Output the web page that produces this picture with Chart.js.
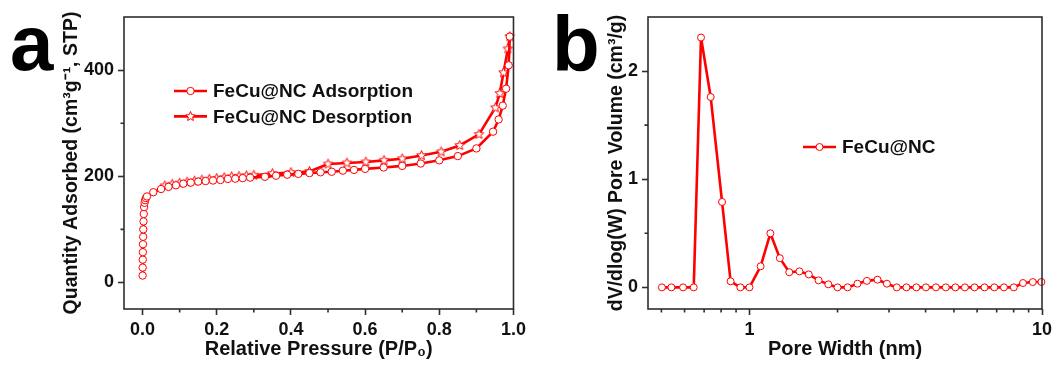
<!DOCTYPE html>
<html>
<head>
<meta charset="utf-8">
<script src="https://cdn.jsdelivr.net/npm/chart.js@4/dist/chart.umd.min.js"></script>
<style>
  html, body { margin: 0; padding: 0; background: #fff; }
  body { width: 1059px; height: 374px; position: relative; overflow: hidden; }
  canvas { position: absolute; top: 0; }
  #isotherm { left: 0; }
  #pores { left: 530px; }
</style>
</head>
<body>
<canvas id="isotherm" width="530" height="374"></canvas>
<canvas id="pores" width="529" height="374"></canvas>
<script>
// panel a - N2 isotherm
const adsPressure = [0.0002, 0.0004, 0.0006, 0.0009, 0.0012, 0.0016, 0.002, 0.0026, 0.0033, 0.0042, 0.0055, 0.007, 0.009, 0.012,
  0.029, 0.05, 0.07, 0.09, 0.11, 0.13, 0.15, 0.17, 0.19, 0.21, 0.23, 0.25, 0.27, 0.29,
  0.33, 0.36, 0.39, 0.42, 0.45, 0.48, 0.51, 0.54, 0.57, 0.60,
  0.65, 0.70, 0.75, 0.80, 0.85, 0.90, 0.945, 0.96, 0.971, 0.98, 0.987, 0.99];
const adsQuantity = [13, 28, 43, 57, 72, 86, 100, 115, 129, 142, 150, 155, 159, 162,
  170, 176, 180, 183, 186, 188, 190, 191, 192, 193, 195, 195.5, 196.5, 197.5,
  199, 201, 203, 204.5, 206, 207.5, 208.5, 210.5, 212, 214,
  216.5, 219.5, 224, 230, 238, 252.5, 284, 307, 333, 365, 409, 463];
const desPressure = [0.99, 0.985, 0.973, 0.963, 0.951, 0.907, 0.855, 0.805, 0.752, 0.70,
  0.651, 0.602, 0.551, 0.50, 0.45, 0.40, 0.35, 0.30, 0.28, 0.26,
  0.24, 0.22, 0.20, 0.18, 0.16, 0.14, 0.12, 0.10, 0.08, 0.06];
const desQuantity = [463, 440, 395, 356, 329, 279, 258, 246, 239, 233,
  230, 227, 225, 223, 209, 207, 205, 202, 201, 200,
  199, 197.5, 196, 194.5, 193, 191, 189, 187, 185, 182];

// panel b - pore size distribution
const poreWidth = [0.502, 0.541, 0.593, 0.645, 0.683, 0.737, 0.806, 0.862, 0.931, 1.0,
  1.092, 1.179, 1.27, 1.368, 1.482, 1.595, 1.723, 1.86, 2.0,
  2.166, 2.34, 2.52, 2.74, 2.95,
  3.19, 3.44, 3.72, 4.01, 4.34, 4.69, 5.06, 5.45, 5.88, 6.36, 6.87, 7.41, 8.01,
  8.61, 9.3, 9.95];
const poreVolume = [0, 0, 0, 0, 2.31, 1.76, 0.79, 0.056, 0, 0,
  0.195, 0.50, 0.27, 0.14, 0.148, 0.12, 0.065, 0.028, 0,
  0, 0.034, 0.06, 0.071, 0.034,
  0, 0, 0, 0, 0, 0, 0, 0, 0, 0, 0, 0, 0,
  0.04, 0.049, 0.05];

// ticks
const isoXTicks = [0, 0.2, 0.4, 0.6, 0.8, 1.0];
const isoXMinor = [0.1, 0.3, 0.5, 0.7, 0.9];
const isoYTicks = [0, 200, 400];
const isoYMinor = [100, 300];
const poreXTicks = [1, 10];
const poreXMinor = [0.5, 0.6, 0.7, 0.8, 0.9, 2, 3, 4, 5, 6, 7, 8, 9];
const poreYTicks = [0, 1, 2];
const poreYMinor = [0.5, 1.5];

const FONT = '"Liberation Sans", Arial, Helvetica, sans-serif';
const RED = '#ff0000';
const AXIS = '#2e2e2e';
const INK = '#111111';

Chart.defaults.font.family = FONT;
Chart.defaults.font.weight = 'bold';
Chart.defaults.color = INK;

function makeStar(r) {
  const c = document.createElement('canvas');
  const s = Math.ceil(r * 2 + 3);
  c.width = c.height = s;
  const g = c.getContext('2d');
  g.beginPath();
  for (let i = 0; i < 10; i++) {
    const rad = i % 2 ? r * 0.45 : r;
    const ang = -Math.PI / 2 + i * Math.PI / 5;
    g.lineTo(s / 2 + rad * Math.cos(ang), s / 2 + rad * Math.sin(ang));
  }
  g.closePath();
  g.fillStyle = '#fff';
  g.fill();
  g.strokeStyle = RED;
  g.lineWidth = 1;
  g.stroke();
  return c;
}
const star = makeStar(5);

function drawMarker(ctx, ds, x, y) {
  if (ds.pointStyle && ds.pointStyle.getContext) {
    ctx.drawImage(ds.pointStyle, x - ds.pointStyle.width / 2, y - ds.pointStyle.height / 2);
    return;
  }
  ctx.beginPath();
  ctx.arc(x, y, ds.pointRadius, 0, Math.PI * 2);
  ctx.fillStyle = '#fff';
  ctx.fill();
  ctx.lineWidth = ds.pointBorderWidth;
  ctx.strokeStyle = RED;
  ctx.stroke();
}

// frame, minor ticks, panel letter and legend
const extras = {
  id: 'extras',
  afterDraw(chart, args, o) {
    const { ctx, chartArea: a } = chart;
    const sx = chart.scales.x, sy = chart.scales.y;
    ctx.save();
    ctx.strokeStyle = AXIS;
    ctx.lineWidth = 1.6;
    ctx.beginPath();
    o.minorX.forEach(v => {
      const p = sx.getPixelForValue(v);
      ctx.moveTo(p, a.bottom);
      ctx.lineTo(p, a.bottom + 3.5);
    });
    o.minorY.forEach(v => {
      const p = sy.getPixelForValue(v);
      ctx.moveTo(a.left, p);
      ctx.lineTo(a.left - 3.5, p);
    });
    ctx.stroke();
    ctx.strokeRect(a.left, a.top, a.right - a.left, a.bottom - a.top);

    ctx.fillStyle = '#000';
    ctx.font = 'bold 78px ' + FONT;
    ctx.textAlign = 'left';
    ctx.textBaseline = 'alphabetic';
    ctx.fillText(o.letter.text, o.letter.x, o.letter.y);

    ctx.font = 'bold 19px ' + FONT;
    ctx.textBaseline = 'middle';
    o.legend.items.forEach((idx, i) => {
      const ds = chart.data.datasets[idx];
      const x = o.legend.x, y = o.legend.y + i * o.legend.gap;
      ctx.strokeStyle = ds.borderColor;
      ctx.lineWidth = ds.borderWidth;
      ctx.beginPath();
      ctx.moveTo(x, y);
      ctx.lineTo(x + 33, y);
      ctx.stroke();
      drawMarker(ctx, ds, x + 16.5, y);
      ctx.fillStyle = INK;
      ctx.fillText(ds.label, x + 39, y + 1);
    });
    ctx.restore();
  }
};

function axis(min, max, ticks, fmt, title, size, extra) {
  const horiz = !!extra;
  return Object.assign({
    min: min, max: max,
    afterBuildTicks: s => { s.ticks = ticks.map(v => ({ value: v })); },
    afterFit: s => { if (s.isHorizontal()) s.height = size; else s.width = size; },
    ticks: { callback: fmt, autoSkip: false, maxRotation: 0, padding: 4,
      font: { size: 18, weight: 'bold' }, color: INK },
    grid: { display: true, drawOnChartArea: false, drawTicks: true,
      tickLength: 6, tickWidth: 1.6, tickColor: AXIS },
    border: { display: false },
    title: { display: true, text: title, padding: 0,
      font: { size: horiz ? 20 : 19.5, weight: 'bold' }, color: INK }
  }, extra || {});
}

const pts = (xs, ys) => xs.map((x, i) => ({ x: x, y: ys[i] }));

new Chart(document.getElementById('isotherm'), {
  type: 'line',
  data: {
    datasets: [{
      label: 'FeCu@NC Adsorption',
      data: pts(adsPressure, adsQuantity),
      borderColor: RED, borderWidth: 2.6, tension: 0,
      pointStyle: 'circle', pointRadius: 3.7, pointBorderWidth: 1,
      pointBackgroundColor: '#fff', pointBorderColor: RED, clip: false
    }, {
      label: 'FeCu@NC Desorption',
      data: pts(desPressure, desQuantity),
      borderColor: RED, borderWidth: 2.6, tension: 0,
      pointStyle: star, pointRadius: 5, clip: false
    }]
  },
  options: {
    responsive: false,
    animation: false,
    layout: { padding: { left: 60, top: 17, right: 13, bottom: 13 } },
    scales: {
      x: axis(-0.05, 1.0, isoXTicks, v => v.toFixed(1), 'Relative Pressure (P/P\u2080)', 52, { type: 'linear' }),
      y: axis(-50, 500, isoYTicks, v => String(v), 'Quantity Adsorbed (cm\u00b3g\u207b\u00b9, STP)', 64)
    },
    plugins: {
      legend: { display: false },
      tooltip: { enabled: false },
      extras: {
        minorX: isoXMinor, minorY: isoYMinor,
        letter: { text: 'a', x: 10, y: 70 },
        legend: { x: 174, y: 91, gap: 25.4, items: [0, 1] }
      }
    }
  },
  plugins: [extras]
});

new Chart(document.getElementById('pores'), {
  type: 'line',
  data: {
    datasets: [{
      label: 'FeCu@NC',
      data: pts(poreWidth, poreVolume),
      borderColor: RED, borderWidth: 2.6, tension: 0,
      pointStyle: 'circle', pointRadius: 3.5, pointBorderWidth: 1,
      pointBackgroundColor: '#fff', pointBorderColor: RED, clip: false
    }]
  },
  options: {
    responsive: false,
    animation: false,
    layout: { padding: { left: 75, top: 17, right: 17, bottom: 13 } },
    scales: {
      x: axis(0.45, 10, poreXTicks, v => String(v), 'Pore Width (nm)', 52, { type: 'logarithmic' }),
      y: axis(-0.2, 2.5, poreYTicks, v => String(v), 'dV/dlog(W) Pore Volume (cm\u00b3/g)', 43)
    },
    plugins: {
      legend: { display: false },
      tooltip: { enabled: false },
      extras: {
        minorX: poreXMinor, minorY: poreYMinor,
        letter: { text: 'b', x: 22, y: 71 },
        legend: { x: 273, y: 147, gap: 0, items: [0] }
      }
    }
  },
  plugins: [extras]
});
</script>
</body>
</html>
